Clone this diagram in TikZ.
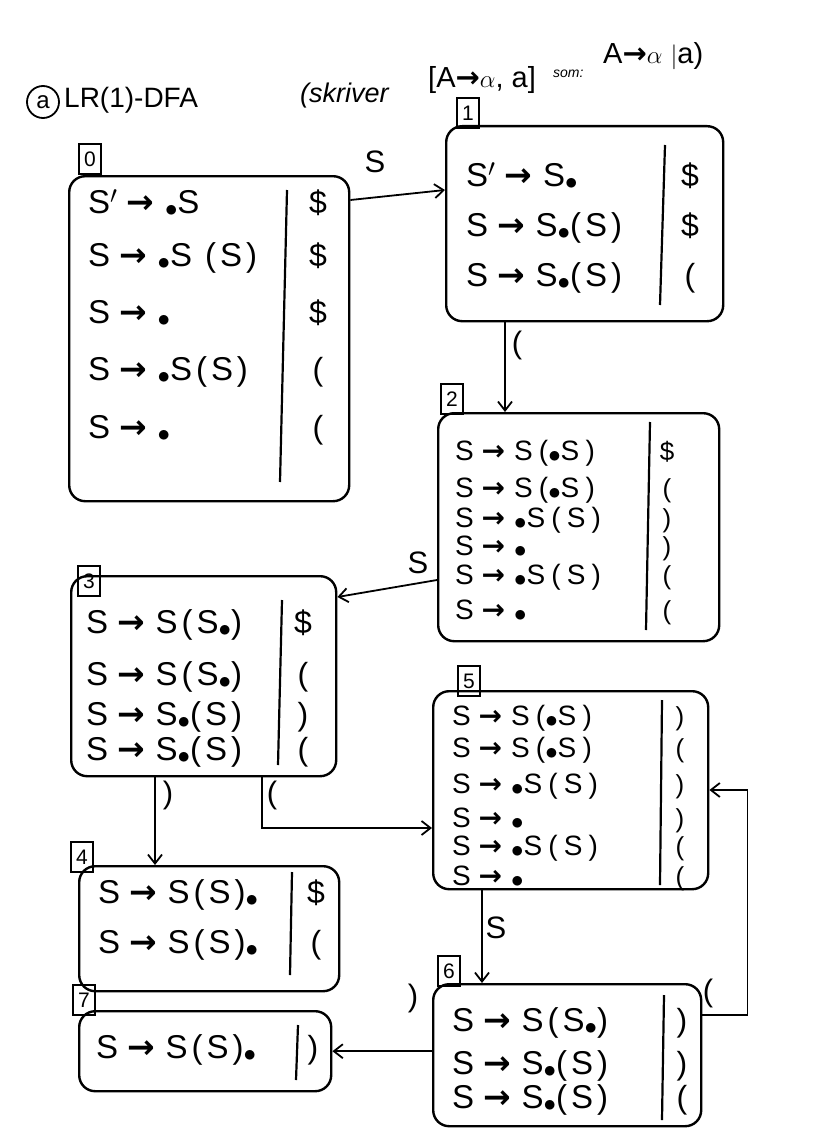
\documentclass[tikz,border=0pt]{standalone}
\usepackage{fontspec}
\setmainfont{Liberation Sans}
\newfontfamily\arrowfont{DejaVu Sans}
\usetikzlibrary{arrows.meta}
\newcommand{\IA}{\hspace{0.28em}{\arrowfont\bfseries →}\hspace{0.32em}}
\newcommand{\ID}{\raisebox{-0.2ex}{$\bullet$}}
\newcommand{\itemfont}{\fontsize{33}{35}\selectfont\addfontfeatures{LetterSpace=12}}
\newcommand{\itemfontsm}{\fontsize{28}{30}\selectfont\addfontfeatures{LetterSpace=22}}
\tikzset{
 st/.style={draw, line width=2.4pt, rounded corners=16pt, inner sep=0pt, anchor=north west},
 tag/.style={draw, line width=1.8pt, inner sep=0pt, minimum width=22pt, minimum height=30pt, anchor=south west, font=\fontsize{21}{23}\selectfont},
 itm/.style={anchor=west, inner sep=0pt, text height=23pt, text depth=7pt, font=\itemfont},
 itms/.style={itm, text height=20pt, text depth=6pt, font=\itemfontsm},
 la/.style={anchor=center, inner sep=0pt, text height=23pt, text depth=7pt, font=\fontsize{32}{34}\selectfont},
 lasm/.style={anchor=center, inner sep=0pt, text height=19pt, text depth=5pt, font=\fontsize{26}{28}\selectfont},
 div/.style={line width=2.2pt},
 edge/.style={line width=1.8pt, -{Straight Barb[length=9pt,width=14pt,line width=1.8pt]}},
 lbl/.style={inner sep=0pt, font=\fontsize{31}{33}\selectfont},
}
\begin{document}
\begin{tikzpicture}[x=1pt,y=-1pt]
\useasboundingbox (0,0) rectangle (825,1129);
% title
\node[draw, circle, line width=1.8pt, inner sep=0pt, minimum size=32pt, font=\fontsize{24}{26}\selectfont] (circ) at (43,102) {a};
\node[anchor=west, inner sep=0pt, font=\fontsize{28}{30}\selectfont] (ttl) at (64,100) {LR(1)-DFA};
\node[anchor=west, inner sep=0pt, font=\itshape\fontsize{27}{29}\selectfont] (sk) at (300,96) {(skriver};
\node[anchor=west, inner sep=0pt, font=\fontsize{29}{31}\selectfont] (form) at (428,80) {[A{\arrowfont\bfseries →}$\alpha$, a]};
\node[anchor=west, inner sep=0pt, font=\itshape\fontsize{14}{16}\selectfont] (som) at (553,74) {som:};
\node[anchor=west, inner sep=0pt, font=\fontsize{29}{31}\selectfont] (eq) at (603,56) {A{\arrowfont\bfseries →}$\alpha$ $\vert$a)};

% state 0
\node[st, minimum width=280pt, minimum height=325pt] (s0) at (68,175) {};
\node[tag] (t0) at ([xshift=10pt]s0.north west) {0};
\foreach \t/\y [count=\k] in {{S$'$\IA\ID S}/205, {S\IA\ID S (S)}/258, {S\IA\ID}/315, {S\IA\ID S(S)}/372, {S\IA\ID}/430}
  \node[itm] (s0i\k) at (88,\y) {\t};
\foreach \t/\y [count=\k] in {{\$}/205, {\$}/258, {\$}/315, {(}/372, {(}/430}
  \node[la] (s0l\k) at (318,\y) {\t};
\draw[div] (287,190) -- (280,482);

% state 1
\node[st, minimum width=277pt, minimum height=195pt] (s1) at (445,125) {};
\node[tag] (t1) at ([xshift=11pt,yshift=-4pt]s1.north west) {1};
\foreach \t/\y [count=\k] in {{S$'$\IA S\ID}/178, {S\IA S\ID(S)}/228, {S\IA S\ID(S)}/278}
  \node[itm] (s1i\k) at (466,\y) {\t};
\foreach \t/\y [count=\k] in {{\$}/178, {\$}/228, {(}/278}
  \node[la] (s1l\k) at (690,\y) {\t};
\draw[div] (665,145) -- (660,305);

% state 2
\node[st, minimum width=281pt, minimum height=228pt] (s2) at (437,412) {};
\node[tag] (t2) at ([xshift=3pt,yshift=-3pt]s2.north west) {2};
\foreach \t/\y [count=\k] in {{S\IA S(\ID S)}/453, {S\IA S(\ID S)}/490, {S\IA\ID S(S)}/520, {S\IA\ID}/548, {S\IA\ID S(S)}/577, {S\IA\ID}/612}
  \node[itms] (s2i\k) at (455,\y) {\t};
\foreach \t/\y [count=\k] in {{\$}/453, {(}/490, {)}/520, {)}/548, {(}/577, {(}/612}
  \node[lasm] (s2l\k) at (667,\y) {\t};
\draw[div] (650,422) -- (646,630);

% state 3
\node[st, minimum width=265pt, minimum height=200pt] (s3) at (70,575) {};
\node[tag] (t3) at ([xshift=7pt,yshift=-22pt]s3.north west) {3};
\foreach \t/\y [count=\k] in {{S\IA S(S\ID)}/625, {S\IA S(S\ID)}/677, {S\IA S\ID(S)}/717, {S\IA S\ID(S)}/752}
  \node[itm] (s3i\k) at (86,\y) {\t};
\foreach \t/\y [count=\k] in {{\$}/625, {(}/677, {)}/717, {(}/752}
  \node[la] (s3l\k) at (303,\y) {\t};
\draw[div] (282,600) -- (278,765);

% state 4
\node[st, minimum width=260pt, minimum height=125pt] (s4) at (78,865) {};
\node[tag] (t4) at ([xshift=-8pt,yshift=-8pt]s4.north west) {4};
\foreach \t/\y [count=\k] in {{S\IA S(S)\ID}/895, {S\IA S(S)\ID}/945}
  \node[itm] (s4i\k) at (98,\y) {\t};
\foreach \t/\y [count=\k] in {{\$}/895, {(}/945}
  \node[la] (s4l\k) at (316,\y) {\t};
\draw[div] (292,872) -- (290,975);

% state 5
\node[st, minimum width=275pt, minimum height=198pt] (s5) at (432,690) {};
\node[tag] (t5) at ([xshift=25pt,yshift=-7pt]s5.north west) {5};
\foreach \t/\y [count=\k] in {{S\IA S(\ID S)}/718, {S\IA S(\ID S)}/750, {S\IA\ID S(S)}/786, {S\IA\ID}/820, {S\IA\ID S(S)}/848, {S\IA\ID}/878}
  \node[itms] (s5i\k) at (452,\y) {\t};
\foreach \t/\y [count=\k] in {{)}/718, {(}/750, {)}/786, {)}/820, {(}/848, {(}/878}
  \node[lasm] (s5l\k) at (680,\y) {\t};
\draw[div] (662,700) -- (660,885);

% state 6
\node[st, minimum width=268pt, minimum height=142pt] (s6) at (432,983) {};
\node[tag] (t6) at ([xshift=5pt,yshift=-4pt]s6.north west) {6};
\foreach \t/\y [count=\k] in {{S\IA S(S\ID)}/1023, {S\IA S\ID(S)}/1066, {S\IA S\ID(S)}/1100}
  \node[itm] (s6i\k) at (452,\y) {\t};
\foreach \t/\y [count=\k] in {{)}/1023, {)}/1066, {(}/1100}
  \node[la] (s6l\k) at (682,\y) {\t};
\draw[div] (664,995) -- (662,1120);

% state 7
\node[st, minimum width=252pt, minimum height=80pt] (s7) at (78,1010) {};
\node[tag] (t7) at ([xshift=-6pt,yshift=-6pt]s7.north west) {7};
\node[itm] (s7i1) at (96,1050) {S\IA S(S)\ID};
\node[la] (s7l1) at (313,1050) {)};
\draw[div] (298,1025) -- (296,1080);

% edges
\draw[edge] ([yshift=-25pt]s0.north east) -- ([yshift=-65pt]s1.north west);
\node[lbl] (e01) at (375,162) {S};
\draw[edge] ([xshift=60pt]s1.south west) -- ([xshift=60pt]s1.south west |- s2.north);
\node[lbl] (e12) at (517,345) {(};
\draw[edge] ([yshift=-168pt]s2.north west) -- ([yshift=-22pt]s3.north east);
\node[lbl] (e23) at (418,563) {S};
\draw[edge] ([xshift=85pt]s3.south west) -- ([xshift=85pt]s3.south west |- s4.north);
\node[lbl] (e34) at (168,795) {)};
\draw[edge] ([xshift=192pt]s3.south west) |- ([yshift=-138pt]s5.north west);
\node[lbl] (e35) at (272,795) {(};
\draw[edge] ([xshift=50pt]s5.south west) -- ([xshift=50pt]s5.south west |- s6.north);
\node[lbl] (e56) at (496,928) {S};
\draw[edge] ([yshift=-32pt]s6.north east) -- ++(45,0) |- ([yshift=-100pt]s5.north east);
\node[lbl] (e65) at (708,993) {(};
\draw[edge] (s6.west |- s7.east) -- (s7.east);
\node[lbl] (e67) at (413,998) {)};
\end{tikzpicture}
\end{document}
